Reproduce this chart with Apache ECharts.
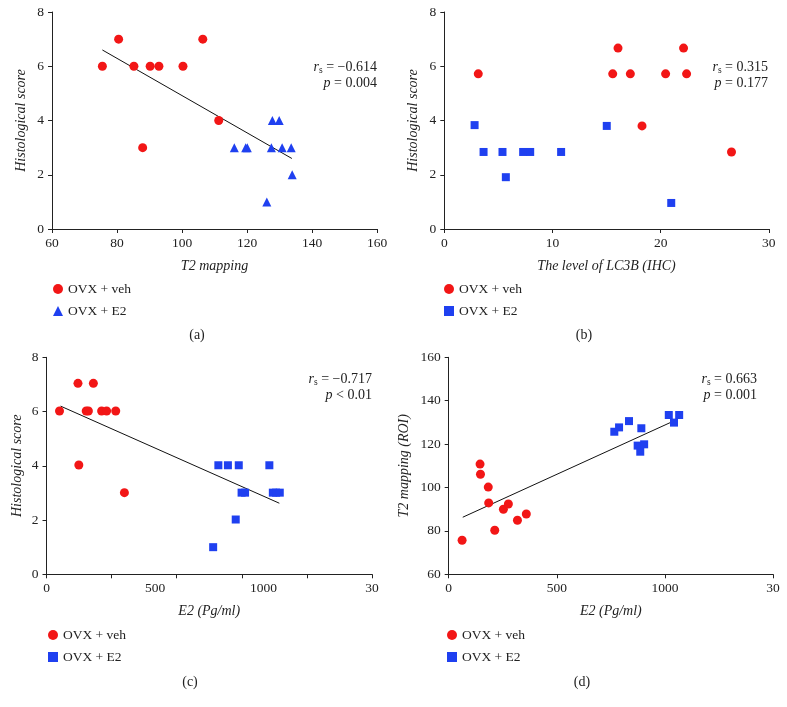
<!DOCTYPE html>
<html>
<head>
<meta charset="utf-8">
<script src="https://cdn.jsdelivr.net/npm/echarts@6/dist/echarts.min.js"></script>
<style>html,body{margin:0;padding:0;background:#fff}#c{width:787px;height:707px}</style>
</head>
<body>
<div id="c"></div>
<script>
// Panel (a): T2 mapping vs Histological score
var aVeh = [[75.5,6],[80.5,7],[85.2,6],[87.9,3],[90.2,6],[92.9,6],[100.3,6],[106.4,7],[111.3,4]];
var aE2 = [[116.1,3],[119.6,3],[120.1,3],[126.1,1],[127.5,3],[127.8,4],[129.9,4],[130.8,3],[133.6,3],[133.9,2]];
var aFit = [[75.5,6.6],[133.8,2.6]];
// Panel (b): LC3B level vs Histological score
var bVeh = [[3.14,5.72],[15.57,5.72],[16.06,6.67],[17.2,5.72],[18.28,3.8],[20.46,5.72],[22.12,6.67],[22.4,5.72],[26.55,2.84]];
var bE2 = [[2.8,3.83],[3.63,2.84],[5.38,2.84],[5.69,1.91],[7.29,2.84],[7.94,2.84],[10.8,2.84],[15.02,3.8],[20.98,0.96]];
// Panel (c): E2 vs Histological score
var cVeh = [[60,6.02],[145,7.04],[149,4.03],[183,6.02],[193,6.02],[216,7.04],[254,6.02],[277,6.02],[319,6.02],[359,3.01]];
var cE2 = [[768,1.0],[792,4.02],[836,4.02],[872,2.02],[886,4.02],[899,3.01],[915,3.01],[1027,4.02],[1043,3.01],[1058,3.01],[1075,3.01]];
var cFit = [[65,6.2],[1073,2.62]];
// Panel (d): E2 vs T2 mapping (ROI)
var dVeh = [[62,75.7],[145,110.8],[147,106.1],[183,100.2],[185,92.9],[213,80.3],[253,90],[276,92.4],[318,84.9],[359,87.8]];
var dE2 = [[766,125.7],[788,127.7],[834,130.6],[874,119.3],[886,116.5],[891,127.3],[904,119.9],[1018,133.4],[1042,129.9],[1066,133.4]];
var dFit = [[65,86.3],[1051,131.1]];
// Tick labels
var cXTicks = [0,300,600,900,1200,1500];
var e2Labels = [0,500,1000,1500];
var e2LabelText = ['0','500','1000','30'];
var stats = [['\u22120.614','= 0.004'],['0.315','= 0.177'],['\u22120.717','< 0.01'],['0.663','= 0.001']];
var vehName = 'OVX + veh', e2Name = 'OVX + E2';

var RED = '#f21616', BLUE = '#1f40f0';
var FONT = "'Liberation Serif','DejaVu Serif',serif";
var chart = echarts.init(document.getElementById('c'), null, {renderer:'canvas'});

function xAx(grid, min, max, interval, tickVals, labelVals, fmt, name) {
  var ax = {
    type:'value', gridIndex:grid, min:min, max:max, interval:interval,
    name:name, nameLocation:'middle', nameGap:30,
    nameTextStyle:{fontFamily:FONT, fontStyle:'italic', fontSize:14, color:'#222'},
    axisLine:{show:true, onZero:false, lineStyle:{color:'#222', width:1}},
    axisTick:{show:true, length:4, lineStyle:{color:'#222'}},
    axisLabel:{fontFamily:FONT, fontSize:13.5, color:'#222', margin:7, formatter:fmt},
    splitLine:{show:false}
  };
  if (tickVals) ax.axisTick.customValues = tickVals;
  if (labelVals) ax.axisLabel.customValues = labelVals;
  return ax;
}
function yAx(grid, min, max, interval, name, gap) {
  return {
    type:'value', gridIndex:grid, min:min, max:max, interval:interval,
    name:name, nameLocation:'middle', nameGap:gap, nameRotate:90,
    nameTextStyle:{fontFamily:FONT, fontStyle:'italic', fontSize:14, color:'#222'},
    axisLine:{show:true, onZero:false, lineStyle:{color:'#222', width:1}},
    axisTick:{show:true, length:4, lineStyle:{color:'#222'}},
    axisLabel:{fontFamily:FONT, fontSize:13.5, color:'#222', margin:8},
    splitLine:{show:false}
  };
}
var e2Fmt = function(v){ var i = e2Labels.indexOf(v); return i >= 0 ? e2LabelText[i] : ''; };

function sc(name, data, g, symbol, color, size) {
  return {type:'scatter', name:name, data:data, xAxisIndex:g, yAxisIndex:g,
    symbol:symbol, symbolSize:size, itemStyle:{color:color, opacity:1}, z:3, silent:true};
}
function fit(data, g) {
  return {type:'line', data:data, xAxisIndex:g, yAxisIndex:g, symbol:'none',
    lineStyle:{color:'#111', width:1}, z:2, silent:true};
}
function leg(left, top, e2Icon) {
  return {orient:'vertical', left:left, top:top, padding:0, itemWidth:10, itemHeight:10, itemGap:8,
    selectedMode:false,
    textStyle:{fontFamily:FONT, fontSize:13.5, color:'#222'},
    data:[{name:vehName, icon:'circle'},{name:e2Name, icon:e2Icon}]};
}
var rich = {i:{fontFamily:FONT, fontStyle:'italic', fontSize:14, fill:'#222', color:'#222'},
            s:{fontFamily:FONT, fontSize:9.5, fill:'#222', color:'#222', padding:[6,0,0,0]},
            n:{fontFamily:FONT, fontSize:14, fill:'#222', color:'#222'}};
function statText(x, y, k) {
  return [
    {type:'text', x:x, y:y, style:{text:'{i|r}{s|s}{n| = '+stats[k][0]+'}', rich:rich, align:'right', verticalAlign:'middle', fontFamily:FONT, fontSize:14, fill:'#222'}},
    {type:'text', x:x, y:y+16, style:{text:'{i|p}{n| '+stats[k][1]+'}', rich:rich, align:'right', verticalAlign:'middle', fontFamily:FONT, fontSize:14, fill:'#222'}}
  ];
}
function panelLabel(x, y, t) {
  return {type:'text', x:x, y:y, style:{text:t, align:'center', verticalAlign:'middle', fontFamily:FONT, fontSize:14, fill:'#222'}};
}

var option = {
  animation:false,
  backgroundColor:'#fff',
  grid:[
    {left:52, top:12, width:325, height:217},
    {left:444.3, top:12, width:324.5, height:217},
    {left:46.5, top:357.3, width:325.5, height:217},
    {left:448.7, top:357.3, width:324.3, height:217}
  ],
  xAxis:[
    xAx(0, 60, 160, 20, null, null, null, 'T2 mapping'),
    xAx(1, 0, 30, 10, null, null, null, 'The level of LC3B (IHC)'),
    xAx(2, 0, 1500, 300, cXTicks, e2Labels, e2Fmt, 'E2 (Pg/ml)'),
    xAx(3, 0, 1500, 500, null, null, e2Fmt, 'E2 (Pg/ml)')
  ],
  yAxis:[
    yAx(0, 0, 8, 2, 'Histological score', 24),
    yAx(1, 0, 8, 2, 'Histological score', 24),
    yAx(2, 0, 8, 2, 'Histological score', 22),
    yAx(3, 60, 160, 20, 'T2 mapping (ROI)', 37)
  ],
  legend:[ leg(53, 282, 'triangle'), leg(444, 282, 'rect'), leg(48, 628, 'rect'), leg(447, 628, 'rect') ],
  series:[
    sc(vehName, aVeh, 0, 'circle', RED, 9), sc(e2Name, aE2, 0, 'triangle', BLUE, 9), fit(aFit, 0),
    sc(vehName, bVeh, 1, 'circle', RED, 9), sc(e2Name, bE2, 1, 'rect', BLUE, 8),
    sc(vehName, cVeh, 2, 'circle', RED, 9), sc(e2Name, cE2, 2, 'rect', BLUE, 8), fit(cFit, 2),
    sc(vehName, dVeh, 3, 'circle', RED, 9), sc(e2Name, dE2, 3, 'rect', BLUE, 8), fit(dFit, 3)
  ],
  graphic:[].concat(
    statText(377, 67, 0), statText(768, 67, 1), statText(372, 379, 2), statText(757, 379, 3),
    [panelLabel(197, 335, '(a)'), panelLabel(584, 335, '(b)'), panelLabel(190, 682, '(c)'), panelLabel(582, 682, '(d)')]
  )
};
chart.setOption(option);
</script>
</body>
</html>
